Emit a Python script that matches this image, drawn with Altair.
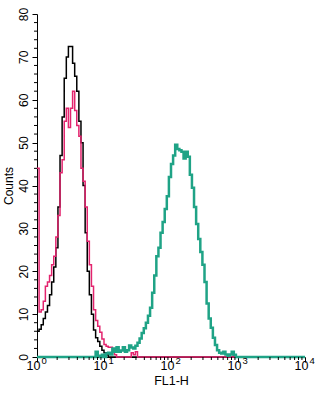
import altair as alt
import numpy as np
import pandas as pd

# Histogram channels: 32 channels per decade, FL1-H from 10^0 to 10^4
channels_per_decade = 32
n_channels = 129

black_counts = [6, 6.5, 7.5, 9, 10.5, 12, 14.5, 17.5, 21, 25.5,
                35, 47, 56, 65, 70, 72.4, 72.4, 68.5, 65.5, 62,
                55, 50, 40, 29, 20, 14.5, 10, 6.3, 4.5, 3.6,
                2.5, 1.6, 1.0, 0.5, 0]

pink_counts = [44, 10.5, 11, 13, 16.5, 17.5, 19, 21.5, 23.5, 28,
               33, 43, 46, 55, 58, 53.5, 58, 62, 57.5, 54,
               51.5, 44, 41, 35, 27, 21.5, 16.5, 11, 8.5, 7.2,
               5.8, 4.2, 2.9, 2.5, 2.3, 2.3, 1.2, 0.5, 0, 0,
               0, 0, 0, 0, 0, 1.0, 0.5, 1.2, 0]

teal_counts = [0, 0, 0, 0, 0, 0, 0, 0, 0, 0,
               0, 0, 0, 0, 0, 0, 0, 0, 0, 0,
               0, 0, 0, 0, 0, 0, 0, 0, 1.2, 0.3,
               0, 0.5, 0, 0.8, 1.0, 0.6, 2.0, 1.2, 2.3, 1.2,
               1.5, 2.3, 1.2, 1.6, 2.7, 2.2, 2.0, 2.6, 3.3, 4.3,
               5.6, 6.7, 8.0, 9.6, 11.5, 15, 19, 23.5, 25.5, 29,
               31.5, 34.5, 37.5, 42, 45, 47, 49.5, 48.5, 48.2, 47.9,
               46.3, 47.9, 46.7, 42.5, 39.5, 35, 31, 27.5, 24.5, 21.5,
               17.5, 12.5, 9, 6.8, 4.5, 2.8, 1.6, 1.0, 0.8, 1.2,
               0.6, 0.3, 0.6, 1.2, 0.5, 0]

x_major = [1, 10, 100, 1000, 10000]
x_exponents = ["0", "1", "2", "3", "4"]
x_minor = [m * 10 ** k for k in range(4) for m in range(2, 10)]
y_major = list(range(0, 81, 10))
y_minor = [v for v in range(0, 81, 2) if v % 10]

colors = {"black": "#000000", "pink": "#e3246e", "teal": "#1fa386"}

W, H = 268, 343
FONT = "Liberation Sans"


def series_df(counts):
    c = list(counts) + [0] * (n_channels - len(counts))
    fl1 = 10 ** (np.arange(n_channels) / channels_per_decade)
    return pd.DataFrame({"fl1": fl1, "count": c})


x_scale = alt.Scale(type="log", domain=[1, 10000], nice=False)
y_scale = alt.Scale(domain=[0, 80], nice=False, zero=True)

x_axis = alt.Axis(values=x_major, labels=False, tickSize=5, tickColor="black",
                  domainColor="black", grid=False, title="FL1-H",
                  titleFont=FONT, titleFontSize=12.5, titleFontWeight="normal",
                  titlePadding=12, titleColor="black")
y_axis = alt.Axis(values=y_major, tickSize=5, tickColor="black", domainColor="black",
                  grid=False, labelAngle=270, labelFont=FONT, labelFontSize=12,
                  labelColor="black", labelPadding=2, title="Counts",
                  titleFont=FONT, titleFontSize=12, titleFontWeight="normal",
                  titleColor="black", titlePadding=2)


def xdef():
    return alt.X("fl1:Q", scale=x_scale, axis=x_axis, title="FL1-H")


def ydef():
    return alt.Y("count:Q", scale=y_scale, axis=y_axis, title="Counts")


layers = []
for name, counts, sw in [("black", black_counts, 1.5),
                         ("pink", pink_counts, 1.5),
                         ("teal", teal_counts, 2.5)]:
    layers.append(
        alt.Chart(series_df(counts)).mark_line(
            interpolate="step-after", color=colors[name], strokeWidth=sw
        ).encode(x=xdef(), y=ydef())
    )

# minor ticks
xminor_df = pd.DataFrame({"fl1": x_minor, "count": [0] * len(x_minor)})
layers.append(
    alt.Chart(xminor_df).mark_rule(color="black", strokeWidth=1).encode(
        x=xdef(), y=alt.value(H), y2=alt.value(H + 3)
    )
)
yminor_df = pd.DataFrame({"fl1": [1] * len(y_minor), "count": y_minor})
layers.append(
    alt.Chart(yminor_df).mark_rule(color="black", strokeWidth=1).encode(
        y=ydef(), x=alt.value(-3), x2=alt.value(0)
    )
)

# x tick labels 10^n
lab_df = pd.DataFrame({"fl1": x_major, "count": [0] * 5, "exp": x_exponents,
                       "base": ["10"] * 5})
layers.append(
    alt.Chart(lab_df).mark_text(font=FONT, fontSize=12.5, align="right",
                                baseline="alphabetic", dx=3.5, color="black").encode(
        x=xdef(), y=alt.value(H + 13), text="base:N"
    )
)
layers.append(
    alt.Chart(lab_df).mark_text(font=FONT, fontSize=9.5, align="left",
                                baseline="alphabetic", dx=4.5, color="black").encode(
        x=xdef(), y=alt.value(H + 7), text="exp:N"
    )
)

chart = alt.layer(*layers).properties(
    width=W, height=H,
    autosize=alt.AutoSizeParams(type="none"),
    padding={"left": 37, "top": 14, "right": 15, "bottom": 36},
    background="white",
).configure_view(strokeWidth=0)

chart.save("out.html", embed_options={"renderer": "svg", "actions": False})
